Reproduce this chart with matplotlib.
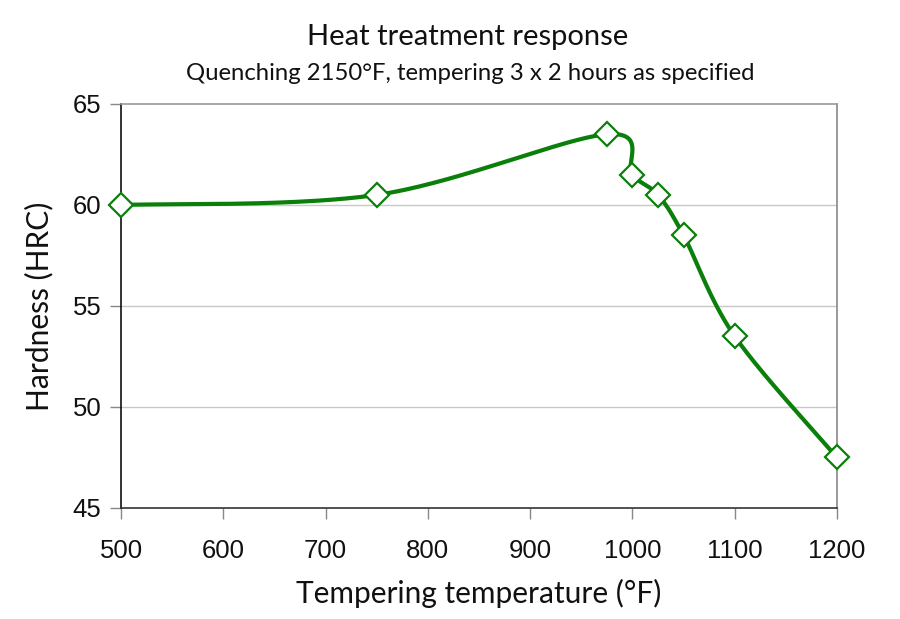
import numpy as np
import matplotlib
matplotlib.use("Agg")
import matplotlib.pyplot as plt

temps = [500, 750, 975, 1000, 1025, 1050, 1100, 1200]
hardness = [60.0, 60.5, 63.5, 61.5, 60.5, 58.5, 53.5, 47.5]
x_ticks = [500, 600, 700, 800, 900, 1000, 1100, 1200]
y_ticks = [45, 50, 55, 60, 65]

GREEN = "#0a7f0a"


def smooth_curve(xs, ys, n=60):
    # Excel-style smoothed line: cubic Bezier segments with Catmull-Rom control points
    pts = np.column_stack([xs, ys]).astype(float)
    out = []
    m = len(pts)
    for i in range(m - 1):
        p0 = pts[i - 1] if i > 0 else pts[i]
        p1 = pts[i]
        p2 = pts[i + 1]
        p3 = pts[i + 2] if i + 2 < m else pts[i + 1]
        c1 = p1 + (p2 - p0) / 6.0
        c2 = p2 - (p3 - p1) / 6.0
        t = np.linspace(0, 1, n)[:, None]
        seg = ((1 - t) ** 3) * p1 + 3 * ((1 - t) ** 2) * t * c1 + 3 * (1 - t) * t ** 2 * c2 + t ** 3 * p2
        out.append(seg if i == 0 else seg[1:])
    c = np.vstack(out)
    return c[:, 0], c[:, 1]


fig = plt.figure(figsize=(9, 6.19), dpi=100)
ax = fig.add_axes([121 / 900, 1 - 508 / 619, (837 - 121) / 900, (508 - 104) / 619])

ax.set_xlim(500, 1200)
ax.set_ylim(45, 65)
ax.set_xticks(x_ticks)
ax.set_yticks(y_ticks)

for yv in [50, 55, 60]:
    ax.axhline(yv, color="#c8c8c8", lw=1.0, zorder=1)

sx, sy = smooth_curve(temps, hardness)
ax.plot(sx, sy, color=GREEN, lw=3.0, zorder=3, solid_capstyle="round", clip_on=False)
ax.plot(temps, hardness, linestyle="none", marker="D", markersize=12,
        markerfacecolor="white", markeredgecolor=GREEN, markeredgewidth=1.6,
        zorder=4, clip_on=False)

ax.spines["left"].set_color("#111111")
ax.spines["bottom"].set_color("#333333")
ax.spines["top"].set_color("#999999")
ax.spines["right"].set_color("#888888")
for s in ax.spines.values():
    s.set_linewidth(1.2)

ax.tick_params(axis="both", direction="out", length=8, width=1.0, color="#888888",
               labelsize=18.5)
ax.tick_params(axis="x", pad=14)
ax.tick_params(axis="y", pad=6)
for lab in ax.get_xticklabels() + ax.get_yticklabels():
    lab.set_fontfamily("Liberation Sans")
    lab.set_color("#111111")

ax.set_xlabel("Tempering temperature (°F)", fontsize=21.5, family="Lato", labelpad=12, color="#111111")
ax.set_ylabel("Hardness (HRC)", fontsize=21.5, family="Lato", labelpad=14, color="#111111")

fig.text(468 / 900, 1 - 37 / 619, "Heat treatment response", ha="center", va="center",
         fontsize=21, family="Lato", color="#111111")
fig.text(470 / 900, 1 - 74 / 619, "Quenching 2150°F, tempering 3 x 2 hours as specified",
         ha="center", va="center", fontsize=17.2, family="Lato", color="#111111")

fig.savefig("out.png", dpi=100)
